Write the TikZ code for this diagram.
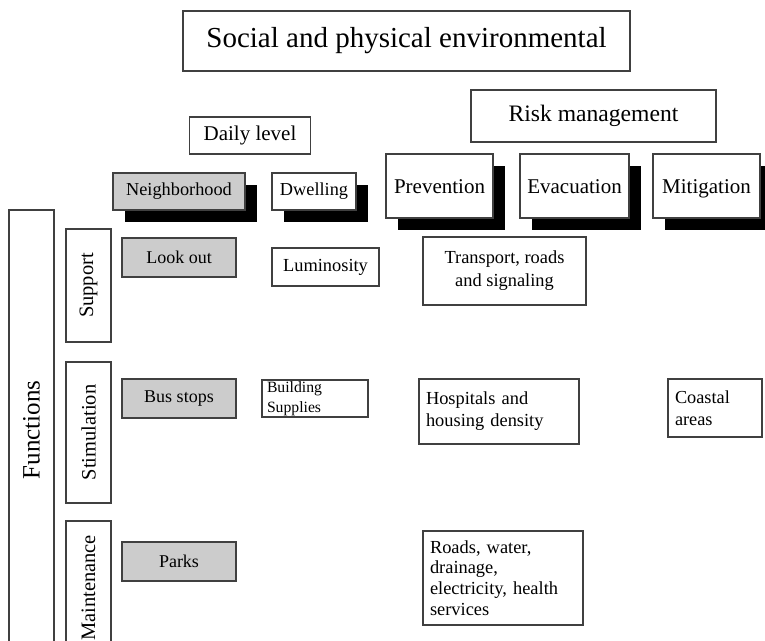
\documentclass[tikz,border=0pt]{standalone}
\usepackage{fontspec}
\setmainfont{Liberation Serif}
\usetikzlibrary{shadows}
\begin{document}
\begin{tikzpicture}[x=1pt,y=-1pt,
  box/.style={draw=black!75,line width=1.1pt,fill=white,inner sep=0pt,align=center},
  graybox/.style={box,fill=black!20},
  shadowed/.style={drop shadow={shadow xshift=12pt,shadow yshift=-12pt,fill=black,opacity=1}},
  leftbox/.style={box,align=left,inner xsep=7pt},
  vbox/.style={box,rotate=90},
  hdr/.style={text height=19pt,text depth=4.5pt}]
\useasboundingbox (0,0) rectangle (765,640);
\clip (0,0) rectangle (765,640);

% headings
\node[box,minimum width=447pt,minimum height=60pt,font=\fontsize{29}{34}\selectfont] (title) at (406.5,41) {Social and physical environmental};
\node[box,minimum width=121pt,minimum height=37pt,font=\fontsize{21}{25}\selectfont] (daily) at (250,135.5) {Daily level};
\node[box,minimum width=245pt,minimum height=52pt,font=\fontsize{23.6}{28}\selectfont] (risk) at (593.5,116) {Risk management};

% column headers with drop shadows
\node[graybox,shadowed,minimum width=132pt,minimum height=37pt,font=\fontsize{18.3}{22}\selectfont] (neigh) at (179,191.5) {Neighborhood};
\node[box,shadowed,minimum width=84pt,minimum height=37pt,font=\fontsize{18.3}{22}\selectfont] (dwell) at (314,191.5) {Dwelling};
\node[box,shadowed,hdr,minimum width=107pt,minimum height=64pt,font=\fontsize{21}{25}\selectfont] (prev) at (439.5,186) {Prevention};
\node[box,shadowed,hdr,minimum width=109pt,minimum height=64pt,font=\fontsize{21}{25}\selectfont] (evac) at (574.5,186) {Evacuation};
\node[box,shadowed,hdr,minimum width=107pt,minimum height=64pt,font=\fontsize{21}{25}\selectfont] (miti) at (706.5,186) {Mitigation};

% row headers (vertical)
\node[vbox,minimum width=440pt,minimum height=45pt,font=\fontsize{25}{30}\selectfont] (func) at (31.5,430) {Functions};
\node[vbox,minimum width=113pt,minimum height=45pt,font=\fontsize{20.5}{24}\selectfont] (supp) at (88.5,285.5) {Support};
\node[vbox,minimum width=141pt,minimum height=45pt,font=\fontsize{20.5}{24}\selectfont] (stim) at (88.5,432.5) {Stimulation};
\node[vbox,minimum width=134pt,minimum height=45pt,font=\fontsize{20.5}{24}\selectfont] (maint) at (88.5,588) {Maintenance};

% neighborhood cells
\node[graybox,minimum width=114pt,minimum height=39pt,font=\fontsize{18}{21}\selectfont] (lookout) at (179,257.5) {Look out};
\node[graybox,minimum width=114pt,minimum height=39pt,font=\fontsize{18}{21}\selectfont] (busstops) at (179,398.5) {Bus stops};
\node[graybox,minimum width=114pt,minimum height=39pt,font=\fontsize{18}{21}\selectfont] (parks) at (179,561.5) {Parks};

% dwelling cells
\node[box,minimum width=107pt,minimum height=38pt,font=\fontsize{18.4}{22}\selectfont] (lumin) at (325.5,267) {Luminosity};
\node[leftbox,inner xsep=5pt,text width=96pt,minimum height=37pt,font=\fontsize{15.7}{20}\selectfont] (build) at (315,398.5) {Building\\Supplies};

% risk management cells
\node[box,minimum width=163pt,minimum height=68pt,font=\fontsize{18.4}{23}\selectfont] (transp) at (504.5,271) {Transport, roads\\and signaling};
\node[leftbox,text width=146pt,minimum height=65pt,font=\fontsize{18.4}{22}\selectfont] (hosp) at (499,411.5) {Hospitals and\\housing density};
\node[leftbox,text width=80pt,minimum height=58pt,font=\fontsize{18.3}{21.5}\selectfont] (coast) at (715,408) {Coastal\\areas};
\node[leftbox,text width=146pt,minimum height=94pt,font=\fontsize{18.4}{20.7}\selectfont] (roads) at (503,578) {Roads, water,\\drainage,\\electricity, health\\services};
\end{tikzpicture}
\end{document}
